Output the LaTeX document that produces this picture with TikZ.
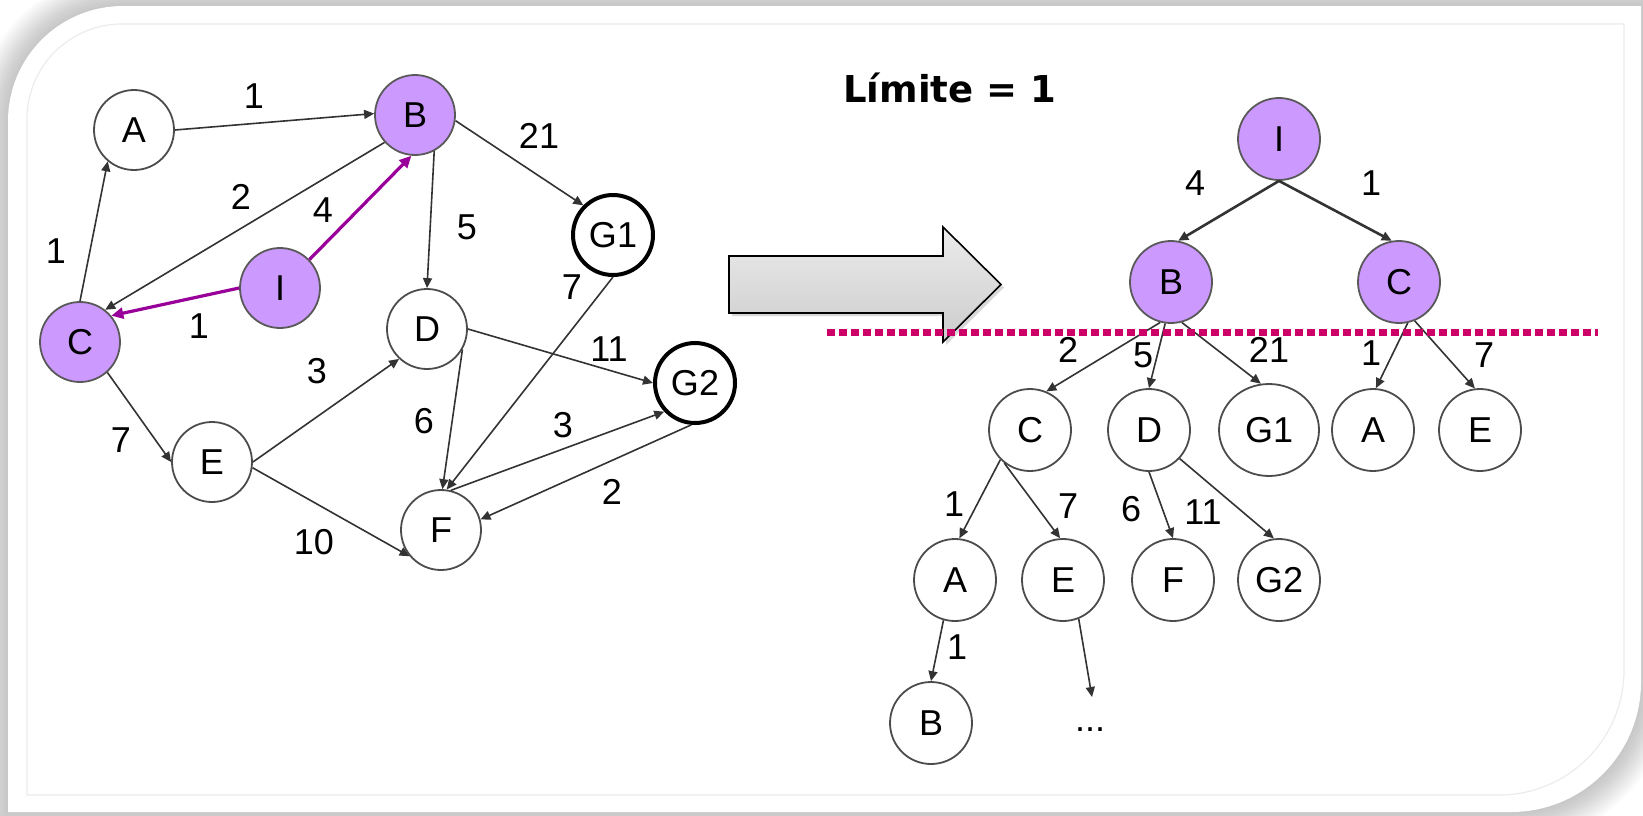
\documentclass[tikz,border=0pt]{standalone}
\usepackage{fontspec}
\setmainfont{Liberation Sans}
\newfontfamily\titlefont{DejaVu Sans}
\usepackage{tikz}
\usetikzlibrary{arrows.meta, shadows, shapes.geometric}
\definecolor{lilac}{HTML}{CC99FF}
\definecolor{plum}{HTML}{990099}
\definecolor{cutred}{HTML}{CC0066}

\begin{document}
\begin{tikzpicture}[
    x=0.5pt, y=0.5pt,
    font=\fontsize{18}{20}\selectfont,
    vtx/.style={circle, draw=black!70, line width=0.9pt, fill=white, minimum size=40pt, inner sep=0pt},
    vtxon/.style={vtx, fill=lilac, draw=black!65},
    vtxgoal/.style={vtx, draw=black, line width=2pt},
    tn/.style={vtx, minimum size=41pt},
    tnon/.style={vtxon, minimum size=41pt},
    wt/.style={inner sep=1pt},
    ar/.style={-{Triangle[length=5pt, width=4.5pt]}, black!80, line width=0.8pt},
    hot/.style={-{Triangle[length=6pt, width=5.5pt]}, plum, line width=1.6pt},
    cutline/.style={cutred, line width=3.5pt, dash pattern=on 3.9pt off 2.1pt}
  ]
    \useasboundingbox (0,0) rectangle (1643,-815);

    % panel with soft shadow
    \foreach \w in {1,...,20}
      \draw[line width=\w*1.6pt, black, opacity=0.012] (8,-812) -- (8,-121) arc[start angle=180, end angle=90, radius=115]
        -- (1641,-6) -- (1641,-682) arc[start angle=0, end angle=-90, radius=130] -- cycle;
    \fill[white] (8,-812) -- (8,-121) arc[start angle=180, end angle=90, radius=115]
        -- (1641,-6) -- (1641,-682) arc[start angle=0, end angle=-90, radius=130] -- cycle;
    \draw[gray!15, line width=0.6pt] (27,-795) -- (27,-119) arc[start angle=180, end angle=90, radius=95]
        -- (1624,-24) -- (1624,-670) arc[start angle=0, end angle=-90, radius=125] -- cycle;

    % search graph
    \node[vtx] (a) at (134,-130) {A};
    \node[vtxon] (b) at (415,-115) {B};
    \node[vtxon] (c) at (80,-342) {C};
    \node[vtxon] (i) at (280,-288) {I};
    \node[vtxgoal] (g1) at (613,-235) {G1};
    \node[vtx] (d) at (427,-329) {D};
    \node[vtxgoal] (g2) at (695,-383) {G2};
    \node[vtx] (e) at (212,-462) {E};
    \node[vtx] (f) at (441,-530) {F};

    \draw[ar] (a.east) -- (b.178);
    \draw[ar] (c.north) -- (a.230);
    \draw[ar] (b.222) -- (c.52);
    \draw[hot] (i.180) -- (c.40);
    \draw[hot] (i.44) -- (b.265);
    \draw[ar] (b.-62) -- (d.north);
    \draw[ar] (b.-8) -- (g1.135);
    \draw[ar] (g1.south) -- (f.82);
    \draw[ar] (d.east) -- (g2.west);
    \draw[ar] (d.-30) -- (f.88);
    \draw[ar] (f.76) -- (g2.223);
    \draw[ar] (g2.265) -- (f.15);
    \draw[ar] (e.east) -- (d.227);
    \draw[ar] (e.-8) -- (f.220);
    \draw[ar] (c.-48) -- (e.west);

    \foreach \nm/\x/\y/\lbl in {ab/254/96/1, bgone/539/136/21, bc/241/197/2, ib/323/210/4, bd/467/227/5,
        ca/56/251/1, gonef/572/287/7, ic/199/326/1, dgtwo/609/349/11, ed/317/371/3, df/424/421/6,
        fgtwo/563/425/3, ce/121/440/7, gtwof/612/492/2, ef/314/542/10}
      \node[wt] (w\nm) at (\x,-\y) {\lbl};

    % big arrow
    \draw[line width=0.8pt, top color=gray!15, bottom color=gray!40,
        drop shadow={shadow xshift=1.5pt, shadow yshift=-1.5pt, opacity=0.3}]
        (729,-256) -- (943,-256) -- (943,-227) -- (1001,-284.5) -- (943,-342) -- (943,-313) -- (729,-313) -- cycle;

    \node[anchor=base west, inner sep=0pt, font=\titlefont\bfseries\fontsize{18.5}{20}\selectfont] (title) at (843,-102) {Límite = 1};

    % search tree
    \node[tnon] (ti) at (1279,-139) {I};
    \node[tnon] (tb) at (1171,-282) {B};
    \node[tnon] (tc) at (1399,-282) {C};
    \node[tn] (tbc) at (1030,-430) {C};
    \node[tn] (tbd) at (1149,-430) {D};
    \node[tn, ellipse, minimum width=50pt, minimum height=46pt] (tbg) at (1269,-430) {G1};
    \node[tn] (tca) at (1373,-430) {A};
    \node[tn] (tce) at (1480,-430) {E};
    \node[tn] (tbca) at (955,-580) {A};
    \node[tn] (tbce) at (1063,-580) {E};
    \node[tn] (tbdf) at (1173,-580) {F};
    \node[tn] (tbdg) at (1279,-580) {G2};
    \node[tn] (tbcab) at (931,-723) {B};
    \node[inner sep=1pt] (more) at (1090,-730) {...};
    \coordinate (moretip) at (1092,-697);

    \draw[ar, line width=1.3pt] (ti.south) -- (tb.80);
    \draw[ar, line width=1.3pt] (ti.south) -- (tc.100);
    \draw[ar] (tb.255) -- (tbc.67);
    \draw[ar] (tb.262) -- (tbd.north);
    \draw[ar] (tb.285) -- (tbg.100);
    \draw[ar] (tc.282) -- (tca.86);
    \draw[ar] (tc.292) -- (tce.97);
    \draw[ar] (tbc.225) -- (tbca.84);
    \draw[ar] (tbc.232) -- (tbce.94);
    \draw[ar] (tbd.south) -- (tbdf.north);
    \draw[ar] (tbd.-43) -- (tbdg.97);
    \draw[ar] (tbca.254) -- (tbcab.north);
    \draw[ar] (tbce.-68) -- (moretip);

    \foreach \nm/\x/\y/\lbl in {ib/1195/183/4, ic/1371/183/1, bc/1068/350/2, bd/1143/355/5, bg/1269/350/21,
        ca/1371/353/1, ce/1484/355/7, bca/954/504/1, bce/1068/506/7, bdf/1131/509/6, bdg/1203/512/11,
        bcab/957/647/1}
      \node[wt] (tw\nm) at (\x,-\y) {\lbl};

    % depth limit
    \coordinate (cutL) at (827,-332);
    \coordinate (cutR) at (1598,-332);
    \draw[cutline] (cutL) -- (cutR);
  \end{tikzpicture}
\end{document}
